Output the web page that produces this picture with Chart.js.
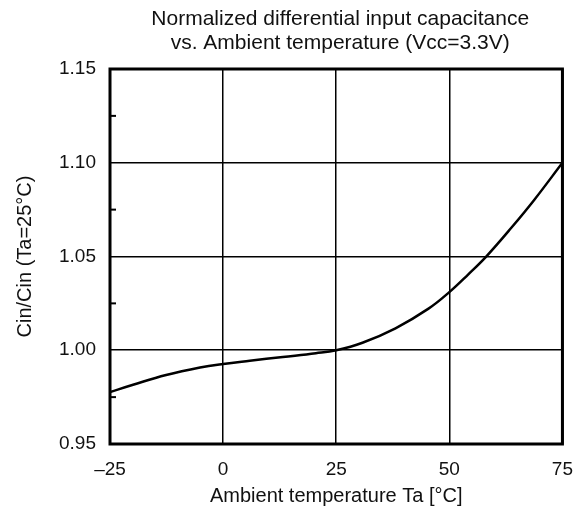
<!DOCTYPE html>
<html>
<head>
<meta charset="utf-8">
<script src="https://cdn.jsdelivr.net/npm/chart.js@4/dist/chart.umd.min.js"></script>
<style>
  body { margin: 0; background: #fff; }
</style>
</head>
<body>
<canvas id="capChart" width="587" height="512"></canvas>
<script>
// data
const temps = [-25, -19.9, -12.6, -5.1, 0, 5.9, 13.2, 20.5, 25, 30.8, 38.1, 45.4, 50, 54.2, 58.2, 63.7, 68.8, 75];
const ratio = [0.9777, 0.9816, 0.9868, 0.9908, 0.9927, 0.9944, 0.9964, 0.9984, 1.000, 1.0040, 1.0117, 1.0222, 1.0310, 1.0405, 1.0501, 1.0653, 1.0803, 1.100];
const xTicks = [-25, 0, 25, 50, 75];
const yTicks = [0.95, 1.00, 1.05, 1.10, 1.15];
const yMinor = [0.975, 1.025, 1.075, 1.125];
const titleLines = ['Normalized differential input capacitance', 'vs. Ambient temperature (Vcc=3.3V)'];

const FONT = "'Liberation Sans', Arial, sans-serif";

// title + frame + minor ticks
const framePlugin = {
  id: 'frame',
  afterDraw(chart) {
    const { ctx, chartArea: a, scales } = chart;
    ctx.save();
    ctx.fillStyle = '#111';
    ctx.font = '21px ' + FONT;
    ctx.textAlign = 'center';
    ctx.textBaseline = 'middle';
    const cx = (a.left + a.right) / 2;
    ctx.fillText(titleLines[0], cx + 4, 19);
    ctx.fillText(titleLines[1], cx + 4, 43);

    ctx.strokeStyle = '#000';
    ctx.lineWidth = 2;
    yMinor.forEach(v => {
      const y = scales.y.getPixelForValue(v);
      ctx.beginPath();
      ctx.moveTo(a.left, y);
      ctx.lineTo(a.left + 6, y);
      ctx.stroke();
    });

    ctx.lineWidth = 3;
    ctx.strokeRect(a.left, a.top, a.right - a.left, a.bottom - a.top);
    ctx.restore();
  }
};

new Chart(document.getElementById('capChart'), {
  type: 'line',
  data: {
    datasets: [{
      data: temps.map((t, i) => ({ x: t, y: ratio[i] })),
      borderColor: '#000',
      borderWidth: 2.5,
      pointRadius: 0,
      tension: 0.4,
      fill: false
    }]
  },
  options: {
    responsive: false,
    animation: false,
    devicePixelRatio: 1,
    layout: { padding: { top: 69, right: 22, left: 0, bottom: 0 } },
    plugins: { legend: { display: false }, tooltip: { enabled: false } },
    scales: {
      x: {
        type: 'linear',
        min: -25, max: 75,
        afterBuildTicks: s => { s.ticks = xTicks.map(v => ({ value: v })); },
        afterFit: s => { s.height = 68; },
        grid: { color: '#000', lineWidth: 1.5, drawTicks: false },
        border: { display: false },
        ticks: {
          color: '#111',
          padding: 14,
          font: { family: FONT, size: 19 },
          callback: v => (v < 0 ? '\u2013' + Math.abs(v) : String(v))
        },
        title: {
          display: true,
          text: 'Ambient temperature Ta [\u00b0C]',
          color: '#111',
          font: { family: FONT, size: 20 },
          padding: { top: 3 }
        }
      },
      y: {
        min: 0.95, max: 1.15,
        afterBuildTicks: s => { s.ticks = yTicks.map(v => ({ value: v })); },
        afterFit: s => { s.width = 110; },
        grid: { color: '#000', lineWidth: 1.5, drawTicks: false },
        border: { display: false },
        ticks: {
          color: '#111',
          padding: 14,
          font: { family: FONT, size: 19 },
          callback: v => v.toFixed(2)
        },
        title: {
          display: true,
          text: 'Cin/Cin (Ta=25\u00b0C)',
          color: '#111',
          font: { family: FONT, size: 20 },
          padding: { top: 13, bottom: 4 }
        }
      }
    }
  },
  plugins: [framePlugin]
});
</script>
</body>
</html>
